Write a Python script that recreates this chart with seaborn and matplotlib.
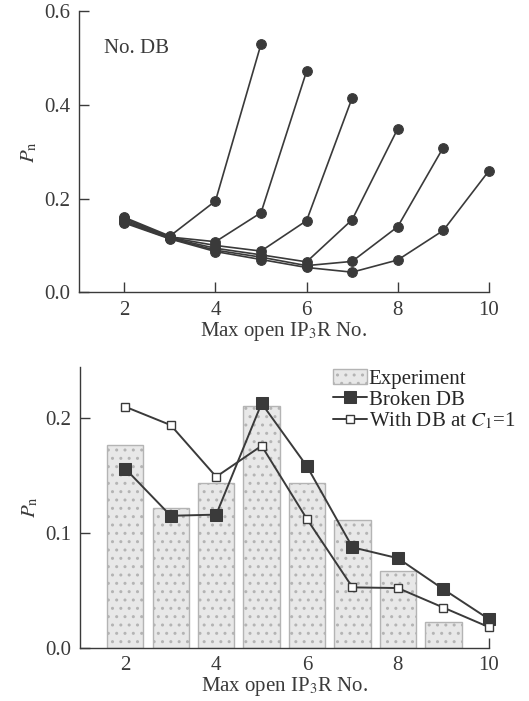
import numpy as np
import pandas as pd
import seaborn as sns
import matplotlib.pyplot as plt

# top panel: "No. DB" curves, each one ends at a different max open number
x_top = [2, 3, 4, 5, 6, 7, 8, 9, 10]
curve_a = [0.160, 0.120, 0.195, 0.530]
curve_b = [0.158, 0.118, 0.108, 0.170, 0.472]
curve_c = [0.155, 0.117, 0.100, 0.088, 0.153, 0.415]
curve_d = [0.152, 0.116, 0.094, 0.080, 0.065, 0.155, 0.349]
curve_e = [0.150, 0.115, 0.090, 0.075, 0.057, 0.066, 0.140, 0.309]
curve_f = [0.148, 0.114, 0.087, 0.070, 0.053, 0.043, 0.069, 0.132, 0.259]
curves = [curve_a, curve_b, curve_c, curve_d, curve_e, curve_f]

# bottom panel
x_bot = [2, 3, 4, 5, 6, 7, 8, 9, 10]
experiment = [0.177, 0.122, 0.144, 0.211, 0.144, 0.111, 0.067, 0.022]
broken_db = [0.156, 0.115, 0.116, 0.213, 0.158, 0.0875, 0.078, 0.051, 0.025]
with_db = [0.210, 0.194, 0.149, 0.176, 0.112, 0.0526, 0.052, 0.035, 0.018]

sns.set_style("ticks")
plt.rcParams['font.family'] = ['Liberation Serif', 'DejaVu Serif']
plt.rcParams['mathtext.fontset'] = 'stix'
plt.rcParams['font.size'] = 15

ink = '#3a3a3a'
fig = plt.figure(figsize=(5.29, 7.01), dpi=100)
ax1 = fig.add_axes([0.149, 0.583, 0.775, 0.401])
ax2 = fig.add_axes([0.151, 0.076, 0.773, 0.401])

for c in curves:
    sns.lineplot(x=x_top[:len(c)], y=c, ax=ax1, color=ink, lw=1.2,
                 marker='o', markersize=7, markeredgecolor=ink, clip_on=False)

ax1.set_xlim(1, 10)
ax1.set_ylim(0, 0.6)
ax1.set_xticks([2, 4, 6, 8, 10])
ax1.set_yticks([0.0, 0.2, 0.4, 0.6])
ax1.text(1.55, 0.52, 'No. DB', fontsize=15, color=ink, va='center')

bars = pd.DataFrame({'x': x_bot[:len(experiment)], 'p': experiment})
sns.barplot(data=bars, x='x', y='p', native_scale=True, width=0.8, ax=ax2,
            color='#e8e8e8', edgecolor='#b4b4b4', linewidth=1.0,
            hatch='..', label='Experiment')
sns.lineplot(x=x_bot, y=broken_db, ax=ax2, color=ink, lw=1.4, marker='s',
             markersize=8, markeredgecolor=ink, label='Broken DB', clip_on=False)
sns.lineplot(x=x_bot, y=with_db, ax=ax2, color=ink, lw=1.4, marker='s',
             markersize=6, markerfacecolor='white', markeredgecolor=ink,
             markeredgewidth=1.0, label='With DB at $C_1$=1', clip_on=False)

ax2.set_xlim(1, 10)
ax2.set_ylim(0, 0.245)
ax2.set_xticks([2, 4, 6, 8, 10])
ax2.set_yticks([0.0, 0.1, 0.2])
handles, labels = ax2.get_legend_handles_labels()
order = [labels.index('Experiment'), labels.index('Broken DB'),
         labels.index('With DB at $C_1$=1')]
ax2.legend([handles[i] for i in order], [labels[i] for i in order],
           loc='upper left', bbox_to_anchor=(0.62, 0.99), frameon=False,
           fontsize=15, handlelength=1.6, handletextpad=0.1,
           labelspacing=0.05, borderpad=0, borderaxespad=0)

for ax in (ax1, ax2):
    sns.despine(ax=ax)
    ax.set_xlabel('Max open IP$_3$R No.', color=ink, labelpad=0)
    ax.set_ylabel('$P_\\mathrm{n}$', color=ink, labelpad=4)
    ax.yaxis.set_major_formatter(plt.FormatStrFormatter('%.1f'))
    ax.tick_params(direction='in', length=7, width=1, colors=ink,
                   labelsize=15, pad=6)
    for s in ('left', 'bottom'):
        ax.spines[s].set_color(ink)
        ax.spines[s].set_linewidth(1.0)

fig.savefig('out.png', dpi=100)
